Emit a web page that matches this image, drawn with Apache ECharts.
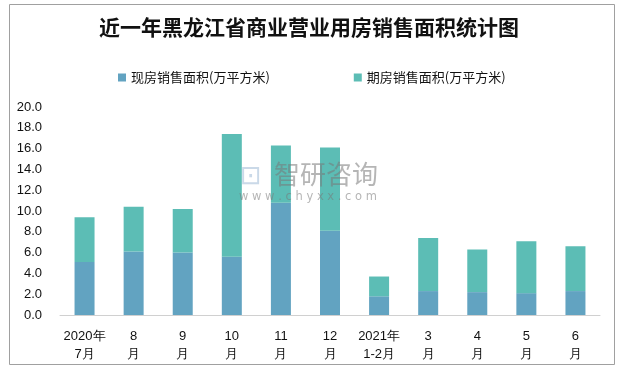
<!DOCTYPE html>
<html><head><meta charset="utf-8">
<script src="https://cdn.jsdelivr.net/npm/echarts@6/dist/echarts.min.js"></script>
<style>html,body{margin:0;padding:0;background:#fff}#c{width:618px;height:367px}</style>
</head><body><div id="c"></div>
<script>
const categories = ['2020年\n7月','8\n月','9\n月','10\n月','11\n月','12\n月','2021年\n1-2月','3\n月','4\n月','5\n月','6\n月'];
const existingSales = [5.1, 6.1, 6.0, 5.6, 10.8, 8.1, 1.8, 2.3, 2.2, 2.1, 2.3];
const futuresSales = [4.3, 4.3, 4.2, 11.8, 5.5, 8.0, 1.9, 5.1, 4.1, 5.0, 4.3];
const seriesNames = ['现房销售面积(万平方米)', '期房销售面积(万平方米)'];

const chart = echarts.init(document.getElementById('c'));
chart.setOption({
  animation: false,
  backgroundColor: '#fff',
  title: {
    text: '近一年黑龙江省商业营业用房销售面积统计图',
    left: 'center', top: 12,
    textStyle: {fontSize: 21, fontWeight: 'bold', color: '#111', fontFamily: 'Noto Sans CJK SC'}
  },
  legend: {
    left: 113, top: 66, itemWidth: 8, itemHeight: 8, itemGap: 84,
    icon: 'rect',
    textStyle: {fontSize: 13, color: '#111', fontFamily: 'Noto Sans CJK SC'},
    data: seriesNames
  },
  graphic: [
    {type: 'rect', shape: {x: 9.5, y: 4.5, width: 605, height: 360}, style: {fill: 'none', stroke: '#a0a0a0', lineWidth: 1}, z: -1},
    {type: 'text', left: 274, top: 161, style: {text: '智研咨询', font: '26px "Noto Sans CJK SC"', fill: 'rgba(120,120,120,0.55)'}, z: 100},
    {type: 'text', left: 240, top: 164, style: {text: '⊡', font: '26px "DejaVu Sans"', fill: 'rgba(150,180,210,0.5)'}, z: 100},
    {type: 'text', left: 239, top: 191, style: {text: 'w w w . c h y x x . c o m', font: '11.5px "DejaVu Sans"', fill: 'rgba(120,120,120,0.55)'}, z: 100}
  ],
  grid: {left: 60, right: 18, top: 107, bottom: 52},
  xAxis: {
    type: 'category', data: categories,
    axisLine: {lineStyle: {color: '#d0d0d0'}},
    axisTick: {show: false},
    axisLabel: {fontSize: 13, color: '#111', lineHeight: 18, margin: 12, interval: 0, fontFamily: 'Liberation Sans'}
  },
  yAxis: {
    type: 'value', min: 0, max: 20, interval: 2,
    axisLine: {show: false}, axisTick: {show: false},
    splitLine: {show: false},
    axisLabel: {fontSize: 13, color: '#111', margin: 18, formatter: v => v.toFixed(1), fontFamily: 'Liberation Sans'}
  },
  series: [
    {name: seriesNames[0], type: 'bar', stack: 's', data: existingSales, barWidth: 20, itemStyle: {color: '#62A3C1'}},
    {name: seriesNames[1], type: 'bar', stack: 's', data: futuresSales, barWidth: 20, itemStyle: {color: '#5CBDB5'}}
  ]
});
</script></body></html>
